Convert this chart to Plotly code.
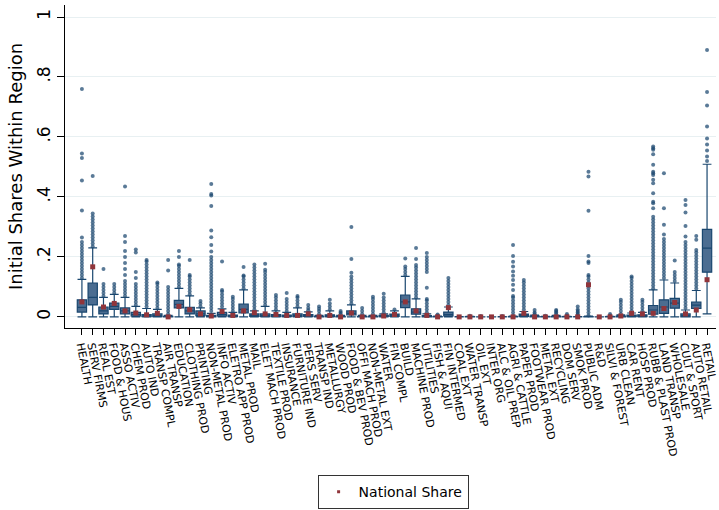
import plotly.graph_objects as go

CATEGORIES = [
    "HEALTH", "SERV FIRMS", "REAL EST", "FOOD & HOUS", "ASSO ACTIV", "CHEM PROD",
    "AUTO IND", "TRANSP COMPL", "AIR TRANSP", "EDUCATION", "CLOTHING PROD", "PRINTING",
    "NON-METAL PROD", "INFO ACTIV", "ELETRO APP PROD", "METAL PROD", "MAIL",
    "ELET MACH PROD", "TEXTILE PROD", "INSURANCE", "FURNITURE IND", "PERS SERV",
    "TRANSP IND", "METALLURGY", "WOOD PROD", "FOOD & BEV PROD", "OFFI MACH PROD",
    "NON-METAL EXT", "WATER", "FIN COMPL", "BUILD", "MACHINE PROD", "UTILITIES",
    "FISH & AQUI", "FIN INTERMED", "COAL EXT", "WATER TRANSP", "OIL EXT", "INTER ORG",
    "ALC & OIL PREP", "AGRI & CATTLE", "PAPER PROD", "FOOTWEAR PROD", "METAL EXT",
    "RECYCLING", "DOM SERV", "SMOK PROD", "PUBLIC ADM", "R&D", "SILVI & FOREST",
    "URB CLEAN", "CAR RENT", "HOSP PROD", "RUBB & PLAST PROD", "LAND TRANSP",
    "WHOLESALE", "CULT & SPORT", "AUTO RETAIL", "RETAIL",
]

Q1 = [.016, .040, .010, .025, .010, .003, .001, .001, .000, .030, .010, .004,
      .000, .003, .001, .013, .002, .001, .001, .001, .001, .002, .000, .001,
      .000, .007, .000, .000, .001, .002, .031, .009, .000, .000, .003, .000,
      .000, .000, .000, .000, .000, .002, .000, .000, .000, .000, .000, .000,
      .000, .000, .000, .001, .001, .009, .012, .029, .000, .028, .149]
MEDIAN = [.032, .065, .020, .035, .020, .008, .004, .004, .000, .042, .020, .010,
          .002, .008, .003, .025, .005, .004, .003, .003, .004, .005, .001, .003,
          .001, .012, .000, .001, .003, .005, .050, .016, .002, .000, .008, .000,
          .000, .000, .000, .000, .000, .005, .001, .000, .001, .000, .000, .000,
          .000, .000, .001, .003, .003, .023, .033, .046, .004, .039, .229]
Q3 = [.057, .113, .033, .046, .030, .015, .008, .010, .002, .055, .032, .020,
      .005, .015, .006, .043, .010, .010, .008, .006, .010, .008, .002, .007,
      .002, .020, .001, .002, .005, .009, .073, .027, .004, .001, .016, .000,
      .001, .000, .000, .000, .001, .009, .003, .001, .002, .001, .000, .001,
      .000, .001, .003, .006, .007, .038, .057, .062, .010, .049, .292]
LOWER = [0] * 58 + [.010]
UPPER = [.125, .230, .065, .075, .065, .035, .028, .025, .005, .095, .070, .030,
         .012, .027, .015, .090, .020, .035, .020, .015, .030, .017, .005, .020,
         .005, .040, .005, .005, .010, .020, .135, .060, .010, .003, .033, .001,
         .002, .000, .000, .001, .003, .018, .006, .002, .005, .002, .001, .003,
         .000, .002, .007, .013, .015, .090, .123, .113, .023, .088, .509]
NATIONAL = [.050, .167, .033, .045, .020, .013, .007, .012, .000, .035, .024, .010,
            .003, .018, .005, .020, .014, .010, .008, .005, .005, .010, .000, .005,
            .000, .013, .000, .000, .003, .008, .050, .020, .005, .000, .031, .000,
            .000, .000, .000, .000, .000, .012, .000, .000, .000, .000, .000, .107,
            .000, .000, .003, .012, .010, .012, .028, .048, .010, .023, .124]

OUTLIERS = [
    [.13, .14, .15, .16, .17, .18, .19, .20, .21, .22, .23, .24, .25, .265, .355, .455, .53, .545, .76],
    [.235, .245, .255, .265, .275, .285, .295, .305, .315, .325, .335, .345, .47],
    [.07, .08, .09, .10, .11, .16],
    [.08, .09, .10, .11],
    [.07, .08, .09, .10, .11, .12, .14, .16, .18, .20, .22, .25, .27, .435],
    [.04, .05, .06, .07, .08, .09, .10, .11, .13, .15, .215, .225],
    [.035, .045, .055, .065, .075, .085, .095, .105, .115, .125, .135, .145, .155, .165, .175, .185, .19],
    [.03, .04, .05, .06, .07, .08, .09, .10, .11, .115],
    [.01, .02, .03, .04, .05, .06, .07, .08, .09, .10, .155, .19],
    [.10, .11, .12, .13, .14, .15, .16, .17, .175, .20, .22],
    [.075, .085, .095, .105, .115, .125, .135, .14, .19],
    [.035, .045, .053],
    [.02, .03, .04, .05, .06, .07, .08, .09, .10, .11, .12, .13, .14, .15, .16, .17, .18, .19, .20,
     .218, .24, .266, .288, .37, .405, .41, .443],
    [.035, .045, .055, .065, .075, .085, .09, .185],
    [.02, .03, .04, .05, .06, .067],
    [.095, .105, .115, .125, .135, .138, .166],
    [.025, .035, .045, .055, .065, .075, .085, .095, .105, .115, .125, .135, .145, .155, .165, .175],
    [.04, .05, .06, .07, .08, .09, .10, .11, .12, .13, .14, .15, .157, .177],
    [.025, .035, .045, .055, .065, .073],
    [.02, .03, .04, .05, .06, .08],
    [.035, .045, .055, .065, .07],
    [.022, .03, .04],
    [.01, .02, .027, .035],
    [.025, .035, .045, .057],
    [.01, .015, .02],
    [.045, .055, .065, .075, .085, .095, .105, .115, .125, .135, .147, .193, .30],
    [.01, .02, .03],
    [.01, .02, .03, .04, .05, .06, .067],
    [.015, .025, .035, .045, .055, .065, .077],
    [.025],
    [.14, .15, .16, .168, .195],
    [.065, .075, .085, .095, .105, .115, .125, .135, .145, .155, .165, .173, .193, .23],
    [.015, .025, .035, .045, .055, .06, .097, .15, .16, .17, .18, .19, .20, .213],
    [.005, .008],
    [.04, .05, .06, .07, .08, .09, .10, .11, .12, .13],
    [],
    [.004],
    [.003],
    [],
    [.003],
    [.005, .015, .025, .035, .045, .055, .065, .07, .09, .107, .123, .137, .151, .168, .184, .203, .24],
    [.025, .035, .045, .055, .065, .075, .085, .095, .105, .115, .123],
    [.01, .015, .023],
    [.004],
    [.01, .015, .02, .023],
    [.005, .01],
    [.005, .01, .015, .02, .025, .035],
    [.005, .015, .025, .035, .045, .055, .065, .075, .085, .095, .105, .115, .125, .135, .14,
     .18, .185, .203, .354, .468, .484],
    [],
    [.005, .01],
    [.01, .02, .03, .04, .05, .057],
    [.02, .03, .04, .05, .06, .07, .08, .09, .10, .11, .12, .13, .135],
    [.02, .03, .04, .05, .057],
    [.095, .105, .115, .125, .135, .145, .155, .165, .175, .185, .195, .205, .215, .225, .235,
     .245, .255, .265, .275, .285, .295, .305, .315, .325, .334, .362, .379, .384, .412, .446,
     .457, .473, .479, .484, .507, .542, .557, .562, .568],
    [.13, .14, .15, .16, .17, .18, .19, .20, .21, .22, .23, .24, .25, .26, .275, .307, .362, .479],
    [.12, .13, .14, .15, .188],
    [.03, .04, .05, .06, .07, .08, .09, .10, .11, .12, .13, .14, .15, .16, .17, .18, .19, .20,
     .21, .22, .23, .24, .25, .268, .303, .348, .373, .39],
    [.095, .105, .115, .125, .135, .145, .155, .165, .175, .185, .195, .205, .215, .223, .257, .27],
    [.52, .535, .555, .575, .595, .635, .705, .75, .89],
]

Y_TICKS = [0, 0.2, 0.4, 0.6, 0.8, 1]
Y_TICK_LABELS = ["0", ".2", ".4", ".6", ".8", "1"]

NAVY = "#1a476f"
BOXFILL = "#4b6d91"
MAROON = "#90353b"
FONT = "DejaVu Sans"

xpos = list(range(len(CATEGORIES)))

fig = go.Figure()

ox, oy = [], []
for i, vals in enumerate(OUTLIERS):
    for v in vals:
        ox.append(i)
        oy.append(v)

fig.add_trace(go.Scatter(
    x=ox, y=oy, mode="markers", showlegend=False, hoverinfo="skip",
    marker=dict(size=4, color=NAVY, opacity=0.72, line=dict(width=0)),
))

fig.add_trace(go.Box(
    x=xpos, q1=Q1, median=MEDIAN, q3=Q3, lowerfence=LOWER, upperfence=UPPER,
    boxpoints=False, width=0.86, whiskerwidth=0.95,
    fillcolor=BOXFILL, line=dict(color=NAVY, width=1.2), showlegend=False,
))

fig.add_trace(go.Scatter(
    x=xpos, y=NATIONAL, mode="markers", name="National Share", showlegend=False,
    marker=dict(symbol="square", size=5, color=MAROON, line=dict(width=0)),
))

# legend-only entry with the smaller marker used in the key
fig.add_trace(go.Scatter(
    x=[None], y=[None], mode="markers", name="National Share",
    marker=dict(symbol="square", size=3, color=MAROON, line=dict(width=0)),
))

fig.update_layout(
    width=719, height=510,
    margin=dict(l=65, r=0, t=5, b=182),
    plot_bgcolor="white", paper_bgcolor="white",
    font=dict(family=FONT, color="black"),
    showlegend=True,
    legend=dict(
        orientation="h", x=0.504, y=-0.508, xanchor="center", yanchor="middle",
        bordercolor="#333333", borderwidth=1, font=dict(size=14, family=FONT),
        itemsizing="trace", itemwidth=30,
    ),
    xaxis=dict(
        range=[-1.57, 58.83], tickmode="array", tickvals=xpos, ticktext=CATEGORIES,
        tickangle=79, tickfont=dict(size=11, family=FONT), ticks="outside", ticklen=6,
        tickcolor="black", showline=True, linecolor="black", linewidth=1,
        showgrid=False, zeroline=False, ticklabeloverflow="allow",
    ),
    yaxis=dict(
        range=[-0.037, 1.04], tickmode="array", tickvals=Y_TICKS, ticktext=Y_TICK_LABELS,
        tickangle=-90, tickfont=dict(size=17, family=FONT), ticks="outside", ticklen=7,
        tickcolor="black", showline=True, linecolor="black", linewidth=1,
        showgrid=True, gridcolor="#e8f0f2", gridwidth=1, zeroline=False,
        title=dict(text="Initial Shares Within Region", font=dict(size=18, family=FONT), standoff=6),
    ),
)

fig.write_html("out.html")
